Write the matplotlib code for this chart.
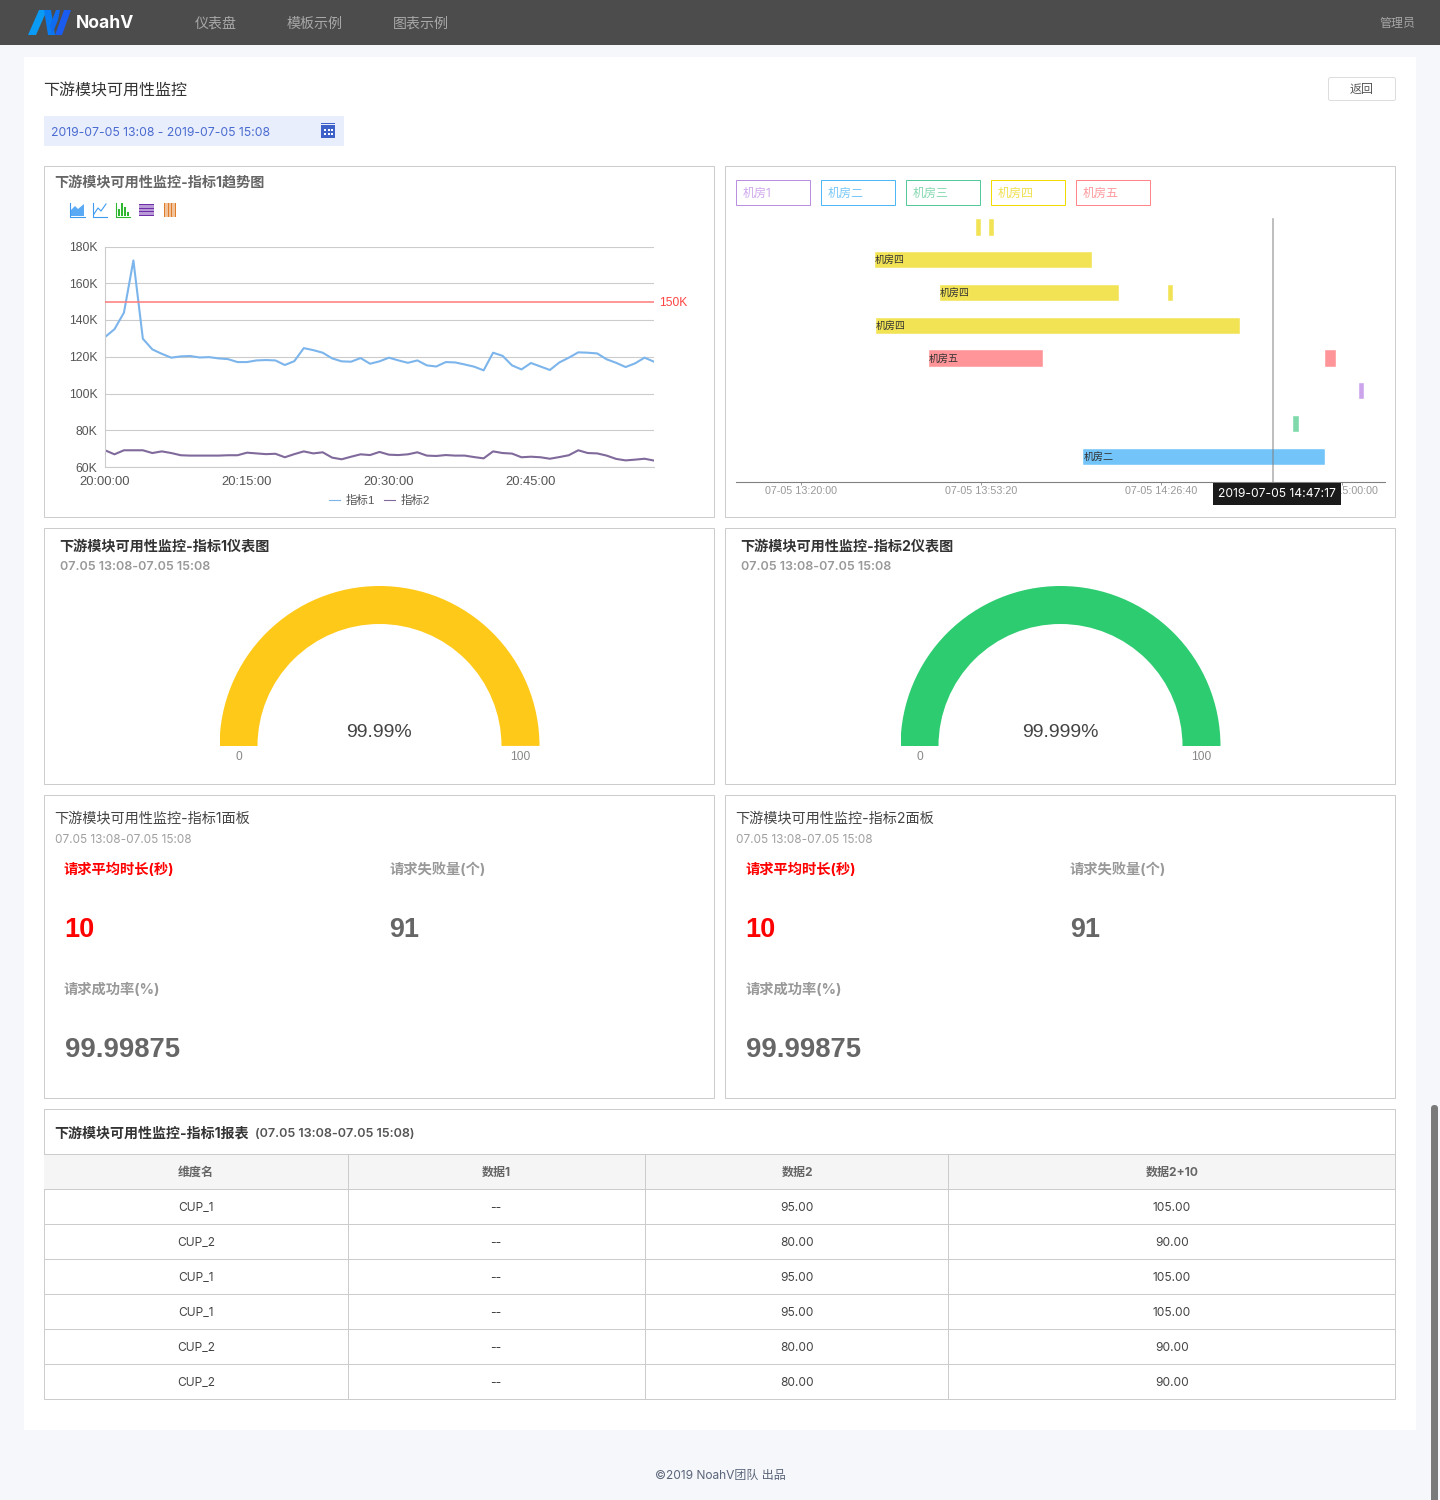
import matplotlib
matplotlib.use('Agg')
import matplotlib.pyplot as plt
from matplotlib.patches import Rectangle, Polygon, Wedge, FancyBboxPatch
from matplotlib.ticker import FuncFormatter

W, H = 1440, 1500
UI_FONT = ['Inter', 'Noto Sans CJK SC', 'DejaVu Sans']
CHART_FONT = ['Liberation Sans', 'Noto Sans CJK SC', 'DejaVu Sans']
plt.rcParams['font.family'] = UI_FONT

# trend chart, one value per minute (in K)
minutes = list(range(59))
series1 = [130.7, 135, 144, 172.4, 129.8, 124, 121.6, 119.5, 120.2, 120.4, 119.6, 119.8, 119.1, 118.7, 117.1,
           117.1, 118, 118.2, 118, 115.5, 117.6, 124.7, 123.6, 122.2, 119.1, 117.5, 117.3, 119.3, 116.2, 117.5,
           119.5, 118, 116.7, 118, 115.3, 114.7, 117.1, 116.9, 115.8, 114.6, 112.6, 122.2, 120.5, 115.3, 113.1,
           116.6, 114.7, 112.8, 116.9, 119.5, 122.4, 122.2, 121.8, 118.6, 116.7, 114.4, 116.4, 119.5, 117.3]
series2 = [69.1, 66.9, 69.1, 69.1, 69.1, 67.6, 68.5, 67.6, 66.4, 66.2, 66.2, 66.2, 66.2, 66.4, 66.4,
           67.8, 67.4, 67, 67.2, 65.3, 67, 68.5, 67.4, 68, 65.1, 64.2, 65.6, 66.9, 66.5, 68.2,
           66.7, 66.5, 66.9, 68, 66.2, 66, 66.5, 66.2, 66.2, 65.4, 64.7, 68.5, 67.6, 67.3, 65.3,
           65.6, 65.3, 64.5, 65.4, 66.4, 69.1, 67.6, 67.4, 66.2, 64.4, 63.6, 64, 64.5, 63.5]
series_names = ['指标1', '指标2']
threshold = 150
y_ticks = [60, 80, 100, 120, 140, 160, 180]
x_ticks = [0, 15, 30, 45]
x_tick_labels = ['20:00:00', '20:15:00', '20:30:00', '20:45:00']

# room timeline
rooms = ['机房1', '机房二', '机房三', '机房四', '机房五']
bar_row = [0, 0, 1, 2, 2, 3, 4, 4, 5, 6, 7]
bar_room = ['机房四', '机房四', '机房四', '机房四', '机房四', '机房四', '机房五', '机房五', '机房1', '机房三', '机房二']
bar_start = ['13:52:22', '13:54:50', '13:33:42', '13:45:43', '14:27:49', '13:33:53', '13:43:41', '14:56:58',
             '15:03:11', '14:50:59', '14:12:13']
bar_end = ['13:53:18', '13:55:46', '14:13:46', '14:18:46', '14:28:48', '14:41:15', '14:04:42', '14:58:53',
           '15:04:07', '14:52:02', '14:56:58']
time_ticks = ['13:20:00', '13:53:20', '14:26:40', '15:00:00']
cursor_time = '14:47:17'

# gauges
gauge_values = [99.99, 99.999]
gauge_labels = ['99.99%', '99.999%']

# number panels
panel_labels = ['请求平均时长(秒)', '请求失败量(个)', '请求成功率(%)']
panel_values = ['10', '91', '99.99875']

# report table
table_header = ['维度名', '数据1', '数据2', '数据2+10']
table_names = ['CUP_1', 'CUP_2', 'CUP_1', 'CUP_1', 'CUP_2', 'CUP_2']
table_data1 = ['--', '--', '--', '--', '--', '--']
table_data2 = ['95.00', '80.00', '95.00', '95.00', '80.00', '80.00']
table_data3 = ['105.00', '90.00', '105.00', '105.00', '90.00', '90.00']

date_range = '2019-07-05 13:08 - 2019-07-05 15:08'
short_range = '07.05 13:08-07.05 15:08'
page_title = '下游模块可用性监控'

room_colors = {'机房1': '#cba4eb', '机房二': '#72c4f9', '机房三': '#7fd9ab', '机房四': '#f2e355', '机房五': '#ff9599'}
room_edges = {'机房1': '#bb8fe0', '机房二': '#4db8f5', '机房三': '#55c99a', '机房四': '#f2dc00', '机房五': '#ff858a'}
room_text = {'机房1': '#cfa9ee', '机房二': '#79c8f8', '机房三': '#86d8b0', '机房四': '#f0e050', '机房五': '#ff9a9e'}


def fs(px):
    return px * 0.72


def seconds(t):
    h, m, s = t.split(':')
    return int(h) * 3600 + int(m) * 60 + int(s)


def sub_axes(left, top, right, bottom):
    return fig.add_axes([left / W, 1 - bottom / H, (right - left) / W, (bottom - top) / H])


def text(x, y, s, size=12, color='#333333', ha='left', weight='normal', family=UI_FONT, z=5):
    return page.text(x, y + 2, s, fontsize=fs(size), color=color, ha=ha, va='center', fontweight=weight,
                     family=family, zorder=z)


def box(x0, y0, x1, y1, face='none', edge='none', lw=1.0, z=1):
    page.add_patch(Rectangle((x0, y0), x1 - x0, y1 - y0, facecolor=face, edgecolor=edge, linewidth=lw * 0.72, zorder=z))


def panel(x0, y0, x1, y1):
    box(x0, y0, x1 - 1, y1 - 1, face='white', edge='#cccccc', z=2)


fig = plt.figure(figsize=(W / 100, H / 100), dpi=100, facecolor='#f5f7fa')
page = fig.add_axes([0, 0, 1, 1])
page.set_xlim(0, W)
page.set_ylim(H, 0)
page.axis('off')

# top bar and white card
box(0, 0, W, 45, face='#4c4c4c')
box(24, 57, 1416, 1430, face='white')
page.add_patch(Polygon([(28, 35), (36, 35), (47, 10), (39, 10)], facecolor='#0a9cf5', zorder=3))
page.add_patch(Polygon([(44, 10), (51, 10), (55, 35), (48, 35)], facecolor='#0a7cf2', zorder=3))
page.add_patch(Polygon([(52, 35), (58, 20), (60, 10), (56, 10), (50, 25)], facecolor='#0f6cf0', zorder=3))
page.add_patch(Polygon([(55, 35), (62, 35), (71, 10), (64, 10)], facecolor='#1a5cf0', zorder=3))
text(76, 22, 'NoahV', 17.5, 'white', weight='bold')
for x, label in zip([195, 287, 393], ['仪表盘', '模板示例', '图表示例']):
    text(x, 22, label, 14, '#a8a8a8')
text(1379, 22, '管理员', 12, '#a8a8a8')

text(43, 88, page_title, 16, '#333333')
page.add_patch(FancyBboxPatch((1328.5, 77.5), 67, 23, boxstyle='round,pad=0,rounding_size=2', facecolor='white',
                              edgecolor='#dddddd', linewidth=0.72, zorder=3))
text(1362, 88, '返回', 12, '#555555', ha='center')

box(44, 116, 344, 146, face='#e8eefc')
text(51, 130.5, date_range, 12.2, '#4a6bd0')
box(321, 125, 335, 138, face='#3f62c8', z=3)
box(321, 123, 335, 124, face='#3f62c8', z=3)
for gx in [325, 328.5, 332]:
    box(gx - 1, 129, gx + 1, 131, face='white', z=4)
    box(gx - 1, 133, gx + 1, 135, face='white', z=4)

for p in [(44, 166, 715, 518), (725, 166, 1396, 518), (44, 528, 715, 785), (725, 528, 1396, 785),
          (44, 795, 715, 1099), (725, 795, 1396, 1099), (44, 1109, 1396, 1400)]:
    panel(*p)

# trend chart panel
text(54.5, 181, page_title + '-指标1趋势图', 14.15, '#666666', weight='bold')
page.add_patch(Polygon([(71, 216), (71, 210), (75, 206), (78, 209), (84, 204), (84, 216)], facecolor='#5aa9f5', zorder=3))
page.plot([70, 70, 85], [203, 217, 217], color='#3f9bf0', lw=0.8, zorder=3)
page.plot([93, 93, 107], [203, 217, 217], color='#3f9bf0', lw=0.8, zorder=3)
page.plot([94, 98, 101, 106], [214, 208, 211, 204], color='#3f9bf0', lw=0.8, zorder=3)
page.plot([116, 116, 130], [203, 217, 217], color='#2fb82f', lw=0.8, zorder=3)
for bx, btop in zip([118, 121, 124, 127], [209, 203, 207, 212]):
    box(bx, btop, bx + 2, 216, face='#2fb82f', z=3)
box(139, 204, 154, 216, face='#b79ad6', z=3)
for by in [204, 207.5, 211, 214.5]:
    box(139, by, 154, by + 1, face='#6f2da8', z=4)
box(164, 203, 176, 217, face='#f0c39c', z=3)
for bx in [164, 168, 171, 175]:
    box(bx, 203, bx + 1, 217, face='#e07b28', z=4)

ax = sub_axes(105, 246.5, 654, 467)
ax.set_facecolor('none')
line1, = ax.plot(minutes, series1, color='#7cb5ec', lw=1.5, label=series_names[0], solid_joinstyle='round')
line2, = ax.plot(minutes, series2, color='#80699b', lw=1.5, label=series_names[1], solid_joinstyle='round')
ax.axhline(threshold, color='#ff7b7b', lw=1.1, zorder=3)
ax.annotate('150K', xy=(1, threshold), xycoords=('axes fraction', 'data'), xytext=(3.6, -0.7), textcoords='offset points',
            color='#f44', fontsize=fs(12), va='center', family=CHART_FONT)
ax.set_xlim(0, 58)
ax.set_ylim(60, 180)
ax.set_yticks(y_ticks)
ax.yaxis.set_major_formatter(FuncFormatter(lambda v, p: '%dK' % v))
ax.set_xticks(x_ticks)
ax.set_xticklabels(x_tick_labels)
ax.grid(axis='y', color='#cccccc', lw=0.8)
ax.set_axisbelow(True)
ax.tick_params(axis='x', length=0, labelsize=fs(13), labelcolor='#555555', pad=6.5)
ax.tick_params(axis='y', length=0, labelsize=fs(12.2), labelcolor='#555555', pad=5.5)
for lab in ax.get_xticklabels() + ax.get_yticklabels():
    lab.set_family(CHART_FONT)
for name, sp in ax.spines.items():
    sp.set_visible(name in ('left', 'bottom'))
    sp.set_color('#cccccc')
    sp.set_linewidth(0.8)
leg = ax.legend(handles=[line1, line2], loc='center', bbox_to_anchor=(274.5 / 549, -33.5 / 220.5), ncol=2, frameon=False,
                handlelength=0.95, handletextpad=0.5, columnspacing=0.8, labelcolor='#555555',
                prop={'family': CHART_FONT, 'size': fs(11.5)})
for h in leg.get_lines():
    h.set_linewidth(0.8)

# room timeline panel
for i, room in enumerate(rooms):
    x0 = 736 + 85 * i
    box(x0, 180, x0 + 74, 205, face='white', edge=room_edges[room], z=3)
    text(x0 + 7, 192, room, 12, room_text[room])

t0 = seconds('13:08:00')
gantt = sub_axes(736, 219, 1385, 482)
gantt.set_facecolor('none')
gantt.set_xlim(0, 7200)
gantt.set_ylim(7.77, -0.26)
for row, room, start, end in zip(bar_row, bar_room, bar_start, bar_end):
    s = seconds(start) - t0
    e = seconds(end) - t0
    gantt.barh(row, e - s, left=s, height=0.49, color=room_colors[room], edgecolor='white', linewidth=0.3, zorder=2)
    if e - s > 600:
        gantt.text(s, row, room, fontsize=fs(10), color='#333333', va='center', family=['Noto Sans CJK SC'], zorder=4)
gantt.axvline(seconds(cursor_time) - t0, color='#808080', alpha=0.6, lw=1.2, zorder=3, clip_on=False)
gantt.set_xticks([seconds(t) - t0 for t in time_ticks])
gantt.set_xticklabels(['07-05 ' + t for t in time_ticks])
gantt.set_yticks([])
gantt.tick_params(axis='x', length=2.2, width=0.6, color='#888888', labelsize=fs(10.7), labelcolor='#999999', pad=0.8)
for lab in gantt.get_xticklabels():
    lab.set_family(CHART_FONT)
for name, sp in gantt.spines.items():
    sp.set_visible(name == 'bottom')
    sp.set_color('#808080')
    sp.set_linewidth(0.8)
tip = gantt.text(seconds(cursor_time) - t0 + 44, 8.13, '2019-07-05 ' + cursor_time, color='white', fontsize=fs(12.1),
                 ha='center', va='center', family=UI_FONT, zorder=11, clip_on=False,
                 bbox=dict(boxstyle='square,pad=0.42', facecolor='#1a1a1a', edgecolor='none'))

# gauges
for k, (cx, value, label, color) in enumerate(zip([379.5, 1060.5], gauge_values, gauge_labels, ['#ffc91a', '#2ecc71'])):
    off = 681 * k
    text(59.5 + off, 545, page_title + '-指标%d仪表图' % (k + 1), 14.15, '#333333', weight='bold')
    text(60 + off, 565.5, short_range, 12.6, '#999999', weight='semibold')
    g = sub_axes(cx - 160, 586, cx + 160, 746)
    g.set_xlim(-160, 160)
    g.set_ylim(0, 160)
    g.axis('off')
    g.add_patch(Wedge((0, 0), 160, 180 * (1 - value / 100), 180, width=38, facecolor=color, edgecolor='none'))
    g.add_patch(Wedge((0, 0), 160, 0, 180 * (1 - value / 100), width=38, facecolor='#eeeeee', edgecolor='none'))
    text(cx - 0.5, 730.5, label, 19.5, '#444444', ha='center', family=CHART_FONT, z=6)
    text(cx - 141, 755, '0', 12, '#888888', ha='center', family=CHART_FONT)
    text(cx + 141, 755, '100', 12, '#888888', ha='center', family=CHART_FONT)

# number panels
for k in range(2):
    off = 681 * k
    text(54.5 + off, 816, page_title + '-指标%d面板' % (k + 1), 14.15, '#444444')
    text(55 + off, 838, short_range, 11.8, '#a0a0a0')
    text(64 + off, 868, panel_labels[0], 14.3, '#ff0000', weight='bold')
    text(389 + off, 868, panel_labels[1], 14.3, '#999999', weight='bold')
    text(64 + off, 988, panel_labels[2], 14.3, '#999999', weight='bold')
    text(64 + off, 928, panel_values[0], 27, '#ff0000', weight='bold', family=CHART_FONT)
    text(389 + off, 928, panel_values[1], 27, '#666666', weight='bold', family=CHART_FONT)
    text(65 + off, 1048, panel_values[2], 27.5, '#666666', weight='bold', family=CHART_FONT)

# report table
text(54.5, 1132, page_title + '-指标1报表', 14, '#333333', weight='bold')
text(255, 1132, '(' + short_range + ')', 12.6, '#555555', weight='semibold')
col_edges = [44, 348, 645, 948, 1395]
box(44, 1154, 1395, 1189, face='#f5f5f5', edge='none', z=3)
row_lines = [1154 + 35 * i for i in range(7)]
for ry in row_lines:
    page.plot([44, 1395], [ry, ry], color='#cccccc', lw=0.72, zorder=4)
for cx in col_edges[1:-1]:
    page.plot([cx, cx], [1154, 1399], color='#cccccc', lw=0.72, zorder=4)
col_mid = [196, 496, 797, 1172]
for cx, head in zip(col_mid, table_header):
    text(cx, 1171, head, 12, '#666666', ha='center', weight='bold')
for i, row in enumerate(zip(table_names, table_data1, table_data2, table_data3)):
    for cx, val in zip(col_mid, row):
        text(cx, 1206 + 35 * i, val, 12, '#444444', ha='center')

text(720, 1474, '©2019 NoahV团队 出品', 12, '#5a6478', ha='center')

# scrollbar
page.add_patch(FancyBboxPatch((1431, 1105), 7, 420, boxstyle='round,pad=0,rounding_size=3.5', facecolor='#7a7a7a',
                              edgecolor='none', zorder=6, clip_on=True))

fig.savefig('out.png', dpi=100)
